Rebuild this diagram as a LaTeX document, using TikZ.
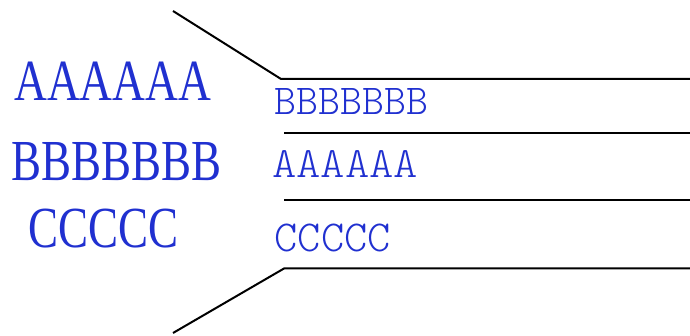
\documentclass[tikz,border=0pt]{standalone}
\usepackage{fontspec}
\setmainfont{Liberation Serif}
\newfontfamily\thinmono{Latin Modern Mono Light}
\usepackage{graphicx}
\definecolor{labelblue}{RGB}{32,48,208}
\tikzset{
  bigword/.style={anchor=base west, inner sep=0pt, text=labelblue, font=\rmfamily},
  smallword/.style={anchor=base west, inner sep=0pt, text=labelblue, font=\thinmono},
  rule/.style={draw=black, line width=2pt, line join=miter}
}
\begin{document}
\begin{tikzpicture}[x=1pt,y=-1pt]
\useasboundingbox (0,0) rectangle (690,336);
% list on the left
\node[bigword] (la) at (14,100.5) {\resizebox{197pt}{38.5pt}{AAAAAA}};
\node[bigword] (lb) at (11.5,180.5) {\resizebox{210pt}{38pt}{BBBBBBB}};
\node[bigword] (lc) at (28.5,248) {\resizebox{150pt}{38.5pt}{CCCCC}};
% fanned-out rows on the right
\coordinate (tl) at (173,11);
\coordinate (t1) at (281,79);
\coordinate (t1e) at (690,79);
\coordinate (t2) at (284,133);
\coordinate (t2e) at (690,133);
\coordinate (t3) at (284,200.5);
\coordinate (t3e) at (690,200.5);
\coordinate (t4) at (284,268.5);
\coordinate (t4e) at (690,268.5);
\coordinate (bl) at (173,333);
\draw[rule] (tl) -- (t1) -- (t1e);
\draw[rule] (t2) -- (t2e);
\draw[rule] (t3) -- (t3e);
\draw[rule] (bl) -- (t4) -- (t4e);
\node[smallword] (rb) at (274.5,115) {\resizebox{154pt}{26pt}{BBBBBBB}};
\node[smallword] (ra) at (272,178) {\resizebox{146pt}{27pt}{AAAAAA}};
\node[smallword] (rc) at (274.5,251.5) {\resizebox{116pt}{27.5pt}{CCCCC}};
\end{tikzpicture}
\end{document}
